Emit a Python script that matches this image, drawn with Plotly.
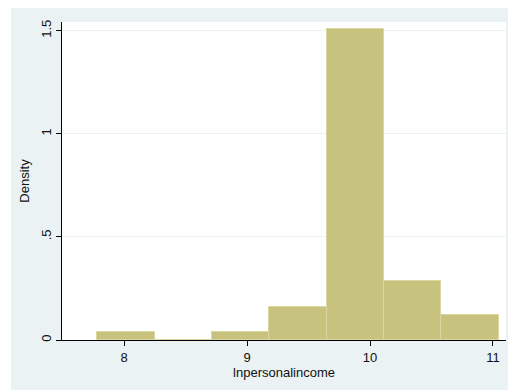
import plotly.graph_objects as go

# Histogram data (density scale)
bin_lefts = [7.78, 8.247, 8.713, 9.18, 9.646, 10.113, 10.58]
bin_width = 0.4665
densities = [0.039, 0.0, 0.039, 0.16, 1.506, 0.285, 0.12]

x_ticks = [8, 9, 10, 11]
x_ticktext = ["8", "9", "10", "11"]
y_ticks = [0, 0.5, 1, 1.5]
y_ticktext = ["0", ".5", "1", "1.5"]

x_title = "lnpersonalincome"
y_title = "Density"

centers = [b + bin_width / 2 for b in bin_lefts]

BG = "#EAF2F3"
FONT = "Liberation Sans, Arial, sans-serif"

fig = go.Figure()
fig.add_trace(go.Bar(
    x=centers, y=densities, width=[bin_width] * len(centers),
    marker=dict(color="#C8C27F", line=dict(color="#DCD7A0", width=1)),
    hoverinfo="skip", showlegend=False,
))

W, H = 508, 390
L, R, T, B = 62, 2, 22, 50
pw, ph = W - L - R, H - T - B

fig.update_layout(
    width=W, height=H,
    margin=dict(l=L, r=R, t=T, b=B, pad=0),
    paper_bgcolor=BG, plot_bgcolor="white",
    font=dict(family=FONT, size=13, color="#111111"),
    bargap=0,
    xaxis=dict(
        range=[7.494, 11.106], tickvals=x_ticks, ticktext=x_ticktext,
        showgrid=False, zeroline=False,
        showline=True, linecolor="black", linewidth=1,
        ticks="outside", ticklen=5, tickcolor="black", tickwidth=1,
        tickfont=dict(size=13),
        title=dict(text=x_title, font=dict(size=13), standoff=0),
    ),
    yaxis=dict(
        range=[0, 1.542], tickvals=y_ticks, ticktext=y_ticktext,
        tickangle=-90,
        showgrid=True, gridcolor=BG, gridwidth=1, zeroline=False,
        showline=True, linecolor="black", linewidth=1,
        ticks="outside", ticklen=5, tickcolor="black", tickwidth=1,
        tickfont=dict(size=13),
        title=dict(text=y_title, font=dict(size=13), standoff=6),
    ),
    shapes=[
        # white outer margin strips (left and top)
        dict(type="rect", xref="paper", yref="paper",
             x0=-L / pw - 0.01, x1=(11 - L) / pw, y0=-B / ph - 0.05, y1=(H - B + 10) / ph,
             fillcolor="white", line=dict(width=0), layer="above"),
        dict(type="rect", xref="paper", yref="paper",
             x0=-L / pw - 0.01, x1=1.05, y0=(H - B - 8) / ph, y1=(H - B + 10) / ph,
             fillcolor="white", line=dict(width=0), layer="above"),
    ],
)

fig.write_html("out.html")
